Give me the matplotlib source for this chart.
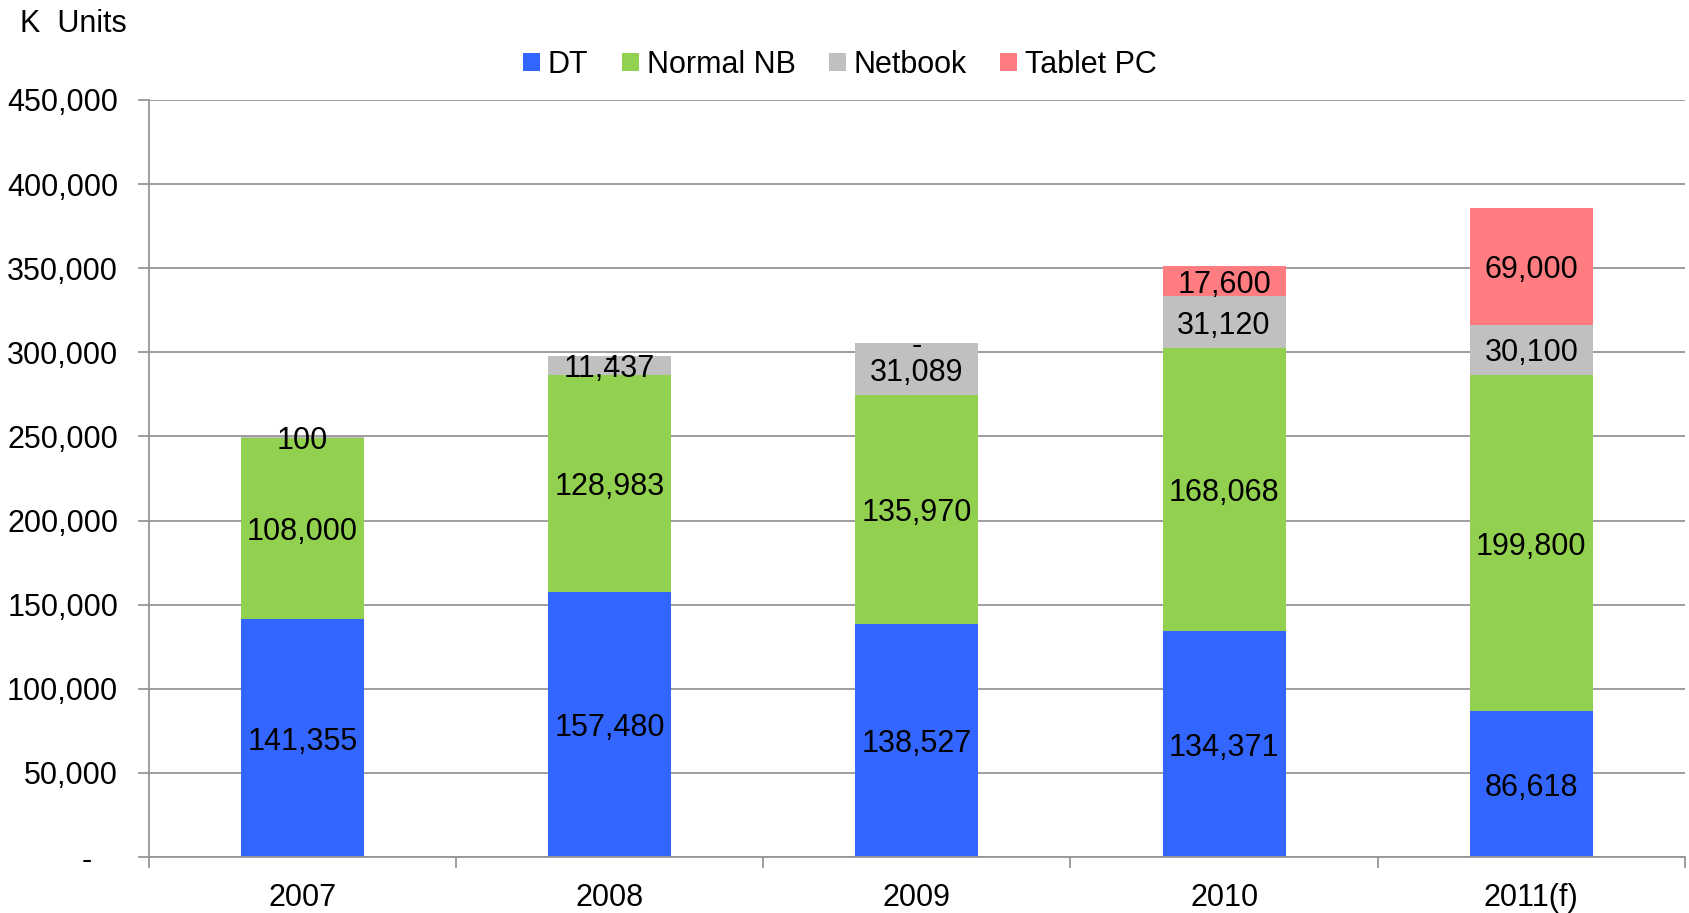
import matplotlib.pyplot as plt
import numpy as np

plt.rcParams['font.family'] = ['Liberation Sans', 'DejaVu Sans']

years = ['2007', '2008', '2009', '2010', '2011(f)']
dt = [141355, 157480, 138527, 134371, 86618]
normal_nb = [108000, 128983, 135970, 168068, 199800]
netbook = [100, 11437, 31089, 31120, 30100]
tablet = [None, 0, 0, 17600, 69000]

series = [('DT', dt, '#3366FF'),
          ('Normal NB', normal_nb, '#92D050'),
          ('Netbook', netbook, '#C0C0C0'),
          ('Tablet PC', tablet, '#FF7C80')]

def fmt(v):
    return '-' if v == 0 else f'{v:,}'

FS = 22

fig = plt.figure(figsize=(16.9, 9.13), dpi=100)
ax = fig.add_axes([0.088, 0.0613, 0.909, 0.8292])

x = np.arange(len(years))
bottom = np.zeros(len(years))
for name, vals, color in series:
    v = np.array([0 if a is None else a for a in vals], dtype=float)
    ax.bar(x, v, 0.4, bottom=bottom, color=color, label=name, zorder=2)
    for i, a in enumerate(vals):
        if a is None:
            continue
        ax.text(x[i], bottom[i] + a / 2, fmt(a), ha='center', va='center_baseline',
                fontsize=FS, zorder=3)
    bottom += v

ax.set_xlim(-0.5, len(years) - 0.5)
ax.set_ylim(0, 450000)
yt = np.arange(0, 450001, 50000)
ax.set_yticks(yt)
ax.set_yticklabels(['-   ' if t == 0 else f'{int(t):,}' for t in yt], fontsize=FS)
ax.yaxis.grid(True, color='#969696', linewidth=1.3, zorder=0)

ax.set_xticks(x)
ax.set_xticklabels(years, fontsize=FS)
ax.set_xticks(np.arange(-0.5, len(years)), minor=True)
ax.tick_params(axis='x', which='major', length=0, pad=19)
ax.tick_params(axis='x', which='minor', length=8, color='#969696', width=1.3)
ax.tick_params(axis='y', length=8, color='#969696', width=1.3, pad=14)

for s in ['top', 'right']:
    ax.spines[s].set_visible(False)
for s in ['left', 'bottom']:
    ax.spines[s].set_color('#969696')
    ax.spines[s].set_linewidth(1.3)

fig.text(0.012, 0.974, 'K  Units', fontsize=FS, va='center', ha='left')
fig.legend(loc='center', bbox_to_anchor=(0.497, 0.929), ncol=4, frameon=False,
           fontsize=FS, handlelength=0.55, handleheight=0.55, handletextpad=0.25,
           columnspacing=1.1)

fig.savefig('out.png', dpi=100)
